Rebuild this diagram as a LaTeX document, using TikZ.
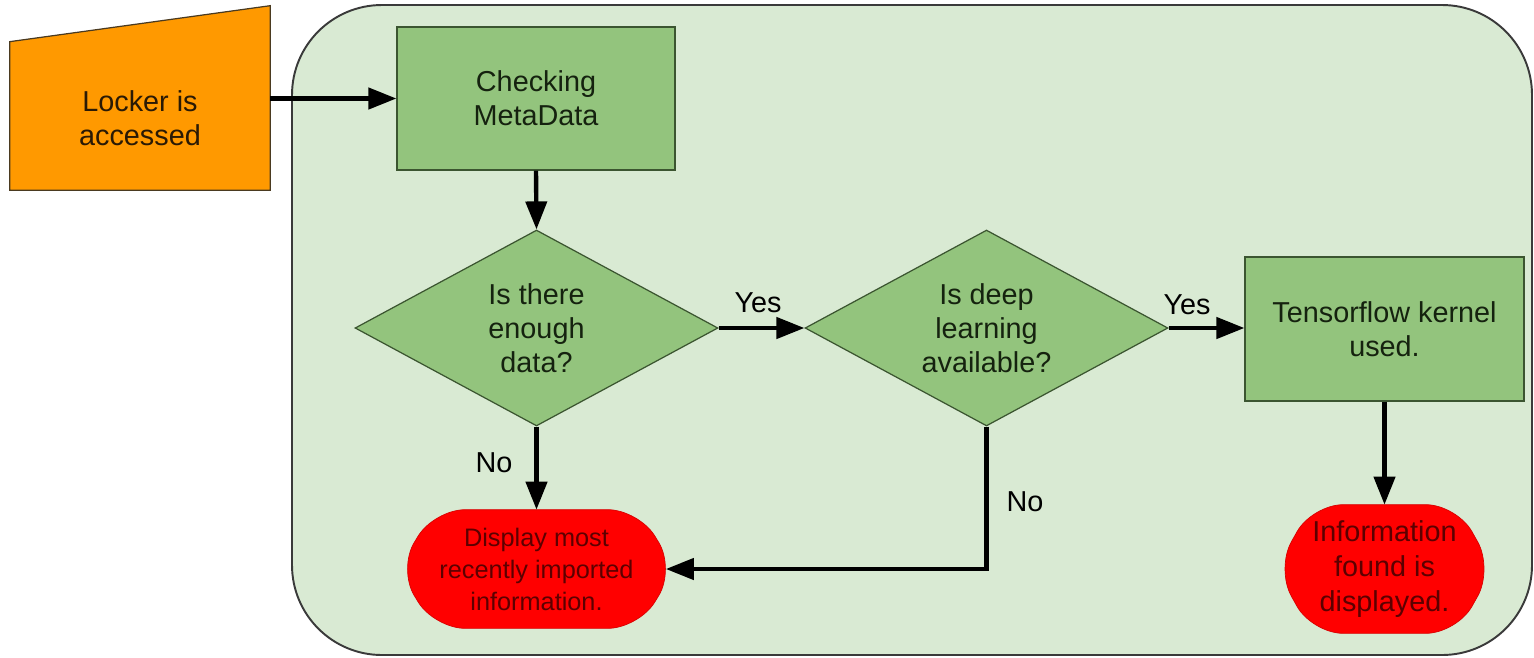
\documentclass[tikz,border=0pt]{standalone}
\usepackage{fontspec}
\setmainfont{Liberation Sans}
\usetikzlibrary{shapes.geometric,arrows.meta,calc}

\definecolor{panelfill}{HTML}{D9EAD3}
\definecolor{panelline}{HTML}{3A3A3A}
\definecolor{boxgreen}{HTML}{93C47D}
\definecolor{boxline}{HTML}{3B5530}
\definecolor{textdark}{HTML}{15220F}
\definecolor{inputorange}{HTML}{FF9900}
\definecolor{inputline}{HTML}{4A3A20}
\definecolor{inputtext}{HTML}{2A1A05}
\definecolor{termred}{HTML}{FF0000}
\definecolor{termtext}{HTML}{5C0000}

\tikzset{
  flowtext/.style={font=\fontsize{16.4}{19.3}\selectfont, text=textdark, align=center},
  procbox/.style={rectangle, draw=boxline, line width=0.7pt, fill=boxgreen,
    inner sep=0pt, flowtext},
  decision/.style={diamond, aspect=1.85, draw=boxline, line width=0.7pt,
    fill=boxgreen, inner sep=0pt, flowtext},
  termframe/.style={rectangle, inner sep=0pt},
  termshape/.style={fill=termred, draw=termred!85!black, line width=0.4pt,
    rounded corners=0.62cm},
  termlabel/.style={text=termtext, align=center},
  flowarrow/.style={line width=2.5pt, draw=black,
    -{Triangle[length=0.56cm,width=0.42cm]}},
  edgelabel/.style={font=\fontsize{16.4}{19.3}\selectfont, text=black}
}

\begin{document}
\begin{tikzpicture}[x=0.02cm, y=-0.02cm]
  \useasboundingbox (0,0) rectangle (1534,657);

  % rounded background panel
  \draw[fill=panelfill, draw=panelline, line width=1.1pt, rounded corners=1.8cm]
    (292,5) rectangle (1532,655);

  % manual input block
  \node[rectangle, minimum width=5.2cm, minimum height=3.68cm, inner sep=0pt]
    (locker) at (140,98) {};
  \draw[fill=inputorange, draw=inputline, line width=0.7pt]
    (locker.south west) -- (locker.south east) -- (locker.north east)
    -- ($(locker.north west)+(0,36)$) -- cycle;
  \node[font=\fontsize{16.4}{19.3}\selectfont, text=inputtext, align=center]
    (lockertext) at (140,118) {Locker is\\accessed};

  % process and decision nodes
  \node[procbox, minimum width=5.56cm, minimum height=2.86cm]
    (check) at (536,98.5) {Checking\\MetaData};
  \node[decision, minimum width=7.26cm, minimum height=3.92cm]
    (enough) at (536.5,328) {Is there\\enough\\data?};
  \node[decision, minimum width=7.26cm, minimum height=3.92cm]
    (deep) at (986.5,328) {Is deep\\learning\\available?};
  \node[procbox, minimum width=5.58cm, minimum height=2.88cm]
    (tensor) at (1384.5,329) {Tensorflow kernel\\used.};

  % terminal nodes: frame node, bulged outline, then the text on top
  \node[termframe, minimum width=5.16cm, minimum height=2.36cm]
    (recent) at (536.5,569) {};
  \draw[termshape]
    ($(recent.north west)+(27,0)$) -- ($(recent.north east)+(-27,0)$)
    -- ($(recent.east)+(9,0)$) -- ($(recent.south east)+(-27,0)$)
    -- ($(recent.south west)+(27,0)$) -- ($(recent.west)+(-9,0)$) -- cycle;
  \node[termlabel, font=\fontsize{14.4}{18.2}\selectfont]
    (recenttext) at (recent.center) {Display most\\recently imported\\information.};

  \node[termframe, minimum width=3.96cm, minimum height=2.56cm]
    (found) at (1384.5,569) {};
  \draw[termshape]
    ($(found.north west)+(27,0)$) -- ($(found.north east)+(-27,0)$)
    -- ($(found.east)+(9,0)$) -- ($(found.south east)+(-27,0)$)
    -- ($(found.south west)+(27,0)$) -- ($(found.west)+(-9,0)$) -- cycle;
  \node[termlabel, font=\fontsize{16.4}{19.8}\selectfont]
    (foundtext) at (found.center) {Information\\found is\\displayed.};

  % connectors
  \draw[flowarrow] (locker.east |- check.west) -- (check.west);
  \draw[flowarrow] (check.south) -- (enough.north);
  \draw[flowarrow] (enough.east) -- (deep.west);
  \draw[flowarrow] (deep.east) -- (deep.east -| tensor.west);
  \draw[flowarrow] (enough.south) -- (enough.south |- recent.north);
  \draw[flowarrow] (deep.south) |- (recent.east);
  \draw[flowarrow] (tensor.south) -- (found.north);

  % branch labels
  \node[edgelabel] (yes1) at (758,303) {Yes};
  \node[edgelabel] (yes2) at (1187,305) {Yes};
  \node[edgelabel] (no1) at (494,463) {No};
  \node[edgelabel] (no2) at (1025,502) {No};
\end{tikzpicture}
\end{document}
